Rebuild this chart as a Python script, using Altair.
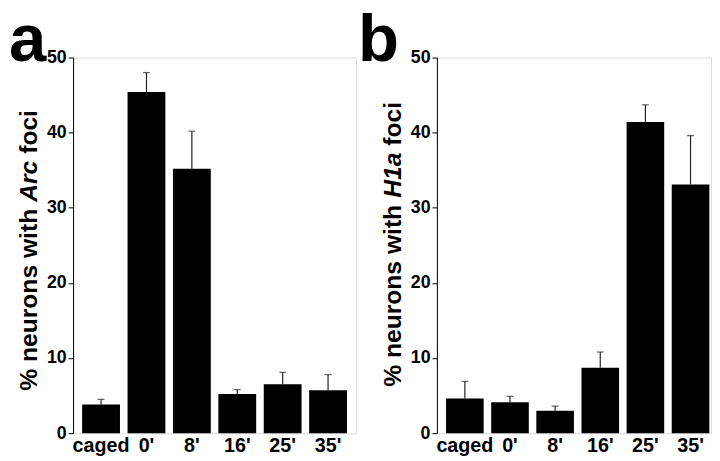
import altair as alt
import pandas as pd

categories = ["caged", "0'", "8'", "16'", "25'", "35'"]
arc_mean = [3.8, 45.4, 35.2, 5.2, 6.5, 5.7]
arc_err = [0.7, 2.6, 5.0, 0.6, 1.6, 2.1]
h1a_mean = [4.6, 4.1, 3.0, 8.7, 41.4, 33.1]
h1a_err = [2.3, 0.8, 0.6, 2.1, 2.3, 6.5]
y_ticks = list(range(0, 51, 5))

FONT = "Liberation Sans, Arial, Helvetica, sans-serif"
TITLE_FS = 25


def em(s):
    w = {"%": 889, " ": 278, "n": 611, "e": 556, "u": 611, "r": 389, "o": 611,
         "s": 556, "w": 778, "i": 278, "t": 333, "h": 611, "f": 333, "c": 556,
         "A": 722, "H": 722, "1": 556, "a": 556}
    return sum(w[ch] for ch in s) / 1000.0 * TITLE_FS


def panel(letter, gene, means, errs, width, pad_outer, align, letter_x, title_x, title_y):
    df = pd.DataFrame({"cat": categories, "mean": means,
                       "top": [m + e for m, e in zip(means, errs)]})
    xs = alt.X("cat:N", sort=categories,
               scale=alt.Scale(paddingInner=0.167, paddingOuter=pad_outer, align=align),
               axis=alt.Axis(title=None, domain=False, ticks=False, tickSize=0,
                             labelAngle=0, labelFont=FONT, labelFontSize=20,
                             labelFontWeight="bold", labelColor="black", labelPadding=3))
    ys = alt.Y("mean:Q", scale=alt.Scale(domain=[0, 50], nice=False),
               axis=alt.Axis(title=None, grid=False, values=y_ticks,
                             labelExpr="datum.value % 10 === 0 ? datum.label : ''",
                             tickSize={"condition": {"test": "datum.value % 10 !== 0", "value": 3}, "value": 5},
                             domainColor="black", domainWidth=1, tickColor="black", tickWidth=1,
                             labelFont=FONT, labelFontSize=18, labelFontWeight="bold",
                             labelColor="black", labelPadding=2, labelOverlap=False,
                             labelFlush=False))
    base = alt.Chart(df)
    bars = base.mark_bar(color="black").encode(x=xs, y=ys)
    stems = base.mark_rule(color="#222", strokeWidth=1.2).encode(
        x=alt.X("cat:N", sort=categories), y="mean:Q", y2="top:Q")
    caps = base.mark_tick(color="#222", thickness=1.2, size=7).encode(
        x=alt.X("cat:N", sort=categories), y="top:Q")

    one = pd.DataFrame({"k": [0]})
    letter_mark = alt.Chart(one).mark_text(
        text=letter, font=FONT, fontSize=68, fontWeight="bold", align="left",
        baseline="alphabetic", color="black").encode(x=alt.value(letter_x), y=alt.value(4))

    def ttext(txt, y, italic=False):
        return alt.Chart(one).mark_text(
            text=txt, font=FONT, fontSize=TITLE_FS, fontWeight="bold",
            fontStyle="italic" if italic else "normal", angle=270, align="left",
            baseline="middle", color="black").encode(x=alt.value(title_x), y=alt.value(y))

    y1 = title_y
    y2 = y1 - em("% neurons with ")
    y3 = y2 - em(gene) - em(" ")
    t1 = ttext("% neurons with", y1)
    t2 = ttext(gene, y2, italic=True)
    t3 = ttext("foci", y3)

    return alt.layer(bars, stems, caps, letter_mark, t1, t2, t3).properties(
        width=width, height=381)


pa = panel("a", "Arc", arc_mean, arc_err, 287, 0.2, 0.5, -65, -44.5, 338)
pb = panel("b", "H1a", h1a_mean, h1a_err, 278, 0.12, 0.845, -80, -44.5, 334)

chart = alt.hconcat(pa, pb, spacing=0).properties(
    padding={"top": -4, "left": 0, "right": 0, "bottom": 0}).configure_view(
    stroke=None).configure(background="white")

chart.save("out.html", embed_options={"renderer": "svg", "actions": False})
